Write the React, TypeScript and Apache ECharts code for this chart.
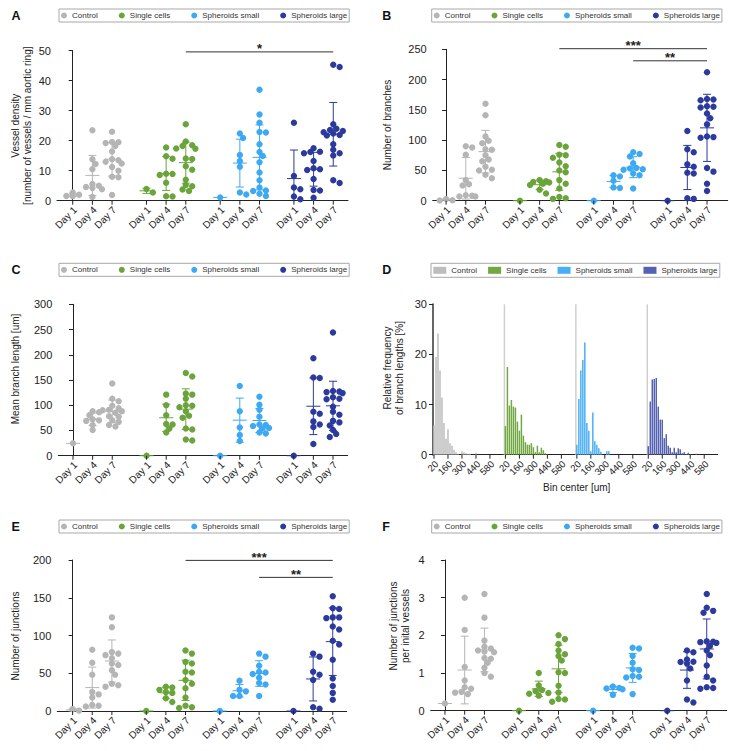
import React, { useEffect, useRef } from "react";
import * as echarts from "echarts";

const FONT = '"Liberation Sans", Arial, Helvetica, sans-serif';

const GROUPS = ["Control", "Single cells", "Spheroids small", "Spheroids large"];
const DAYS = ["Day 1", "Day 4", "Day 7"];
const COLORS = ["#b5b5b5", "#6aa43a", "#3ea9f3", "#2b3a9c"];
const BAR_COLORS = ["#bdbdbd", "#72a842", "#48aff5", "#5562b2"];

// Panel A: vessel density [number of vessels / mm aortic ring]  (Day 1, Day 4, Day 7)
const vdControl = [[1.5, 2.7, 1.6, 2.0], [23.5, 13.8, 12.2, 10.5, 5.6, 5.0, 4.6, 4.2, 3.8, 1.2], [23.0, 19.6, 19.5, 19.2, 18.2, 16.4, 13.8, 13.5, 13.0, 12.4, 11.2, 10.0, 8.0, 7.8, 1.9]];
const vdSingle = [[2.7, 3.9], [17.7, 14.8, 14.0, 9.0, 8.9, 8.6, 6.0, 1.5, 1.4], [25.5, 19.7, 18.5, 18.2, 17.4, 17.3, 14.1, 13.9, 11.5, 10.3, 7.0, 5.2, 4.8, 3.7, 3.2]];
const vdSmall = [[1.1], [22.4, 20.9, 15.2, 13.2, 11.3, 2.7, 2.1], [37.0, 28.7, 26.0, 22.9, 22.7, 18.8, 16.2, 14.9, 12.8, 9.4, 6.8, 4.4, 3.4, 3.2, 2.3, 1.6]];
const vdLarge = [[26.0, 8.2, 4.4, 3.8, 1.4, 0.5], [17.5, 16.3, 16.2, 15.8, 13.2, 10.8, 10.5, 10.2, 7.2, 3.6, 3.4, 1.0], [45.3, 44.6, 25.5, 24.0, 23.6, 23.2, 22.8, 22.4, 21.9, 21.7, 18.8, 17.0, 15.8, 15.1, 6.8, 5.9]];

// Panel B: number of branches
const brControl = [[2.8, 0.6, 0.3], [90, 88, 76, 34, 27, 25, 9, 8, 7, 7], [160, 141, 106, 99, 95, 85, 84, 75, 68, 65, 56, 51, 50, 43, 37]];
const brSingle = [[0], [34, 32, 31, 30, 28, 26, 18, 12], [92, 89, 76, 75, 71, 63, 57, 50, 47, 34, 28, 20, 6, 4, 3]];
const brSmall = [[0], [42, 40, 33, 22, 21], [80, 77, 73, 62, 54, 53, 52, 51, 45, 42, 20]];
const brLarge = [[0], [115, 85, 80, 60, 56, 46, 45, 4, 3], [212, 168, 167, 166, 156, 155, 154, 144, 136, 126, 106, 105, 104, 54, 48, 28, 16]];

// Panel C: mean branch length [um]
const mlControl = [[24.5], [88, 86, 80, 72, 70, 69, 61, 51], [143, 113, 108, 99, 94, 91, 90, 88, 85, 78, 77, 70, 67, 61, 58]];
const mlSingle = [[0], [121, 100, 80, 63, 62, 54, 46], [164, 157, 123, 121, 113, 100, 99, 96, 88, 79, 75, 54, 52, 32, 30]];
const mlSmall = [[0], [138, 88, 56, 41, 29], [117, 101, 91, 77, 62, 61, 59, 55, 54, 46, 44]];
const mlLarge = [[0], [193, 155, 154, 87, 83, 68, 62, 57, 23], [244, 128, 127, 126, 124, 116, 113, 112, 97, 87, 81, 69, 66, 60, 51, 43, 37]];

// Panel E: number of junctions
const jnControl = [[2.5, 0.5], [81, 64, 48, 25, 22, 18, 8, 7, 6], [124, 111, 78, 76, 74, 70, 63, 61, 54, 48, 36, 34, 32]];
const jnSingle = [[0], [32, 31, 28, 25, 24, 17, 12], [80, 76, 65, 63, 52, 51, 41, 36, 30, 18, 7, 5, 4]];
const jnSmall = [[0], [40, 28, 26, 20, 20], [76, 72, 60, 52, 51, 49, 44, 37, 35, 20]];
const jnLarge = [[0], [76, 72, 52, 48, 41, 5, 3], [152, 136, 135, 124, 124, 123, 112, 108, 93, 88, 68, 43, 33, 24, 15]];

// Panel F: number of junctions per initial vessels
const jvControl = [[0.19], [3.0, 2.14, 1.16, 0.8, 0.62, 0.58, 0.5, 0.48, 0.44], [3.1, 2.47, 1.86, 1.7, 1.65, 1.6, 1.57, 1.55, 1.4, 1.38, 1.27, 1.14, 1.0, 0.9]];
const jvSingle = [[0], [1.0, 0.67, 0.55, 0.52, 0.47, 0.45, 0.4], [2.0, 1.9, 1.77, 1.6, 1.5, 1.45, 1.33, 1.02, 1.0, 0.66, 0.48, 0.31, 0.3, 0.24]];
const jvSmall = [[0], [0.64, 0.6, 0.59, 0.57, 0.42], [1.67, 1.65, 1.45, 1.27, 1.1, 1.08, 0.92, 0.9, 0.88, 0.44]];
const jvLarge = [[0], [1.6, 1.55, 1.36, 1.3, 1.29, 1.25, 1.12, 0.8, 0.3, 0.22], [3.1, 2.73, 2.65, 2.6, 1.84, 1.83, 1.82, 1.8, 1.72, 1.6, 1.47, 1.2, 0.9, 0.8, 0.62, 0.6, 0.58]];

// Panel D: relative frequency of branch lengths [%] per bin center [um]
const HIST_BINS = [20, 40, 60, 80, 100, 120, 140, 160, 180, 200, 220, 240, 260, 280, 300, 320, 340, 360, 380, 400, 420, 440, 460, 480, 500];
const histControl = [5.8, 19.5, 24.2, 16.8, 11.4, 6.3, 3.2, 5.1, 2.3, 1.8, 1.0, 0.5, 0.2, 0, 0.7, 0.5, 0.3, 0.2, 0.15, 0, 0, 0.4, 0, 0, 0];
const histSingle = [5.7, 17.5, 9.8, 10.9, 9.6, 9.4, 6.6, 4.8, 8.0, 3.8, 2.5, 2.0, 2.0, 2.3, 1.5, 0.5, 1.8, 0.5, 1.4, 0.9, 0.3, 0.1, 0, 0, 0];
const histSmall = [2.0, 11.1, 16.8, 18.9, 22.4, 6.3, 4.8, 0.7, 8.4, 2.7, 2.0, 1.3, 0.6, 0, 0, 0.7, 0.7, 0, 0, 0, 0, 0, 0, 0, 0];
const histLarge = [1.7, 10.6, 15.0, 15.1, 15.3, 9.6, 7.0, 7.0, 3.3, 4.1, 1.8, 1.4, 0.5, 1.4, 0.5, 1.3, 1.1, 0.3, 0.5, 0.15, 0.4, 0.1, 0, 0, 0.2];
const HIST_TICKS = ["20", "160", "300", "440", "580"];

const GROUP_STEP = 3.75; // category layout: group spacing in day-slots
const HIST_GROUP_STEP = 715; // histogram layout: spacing of the four data sets on the shared axis

const PANELS = [
  {
    letter: "A", values: [vdControl, vdSingle, vdSmall, vdLarge],
    grid: { left: 57, top: 50.7, width: 291, height: 150 }, xMin: -0.8, xMax: 14.0, yMax: 50, yStep: 10,
    title: "Vessel density\n[number of vessels / mm aortic ring]", titleX: 21, titleY: 125.7,
    letterX: 11.5, letterY: 15.5, legendLeft: 59, legendTop: 9,
    sig: [{ from: [1, 2], to: [3, 2], y: 49.6, label: "*" }],
  },
  {
    letter: "B", values: [brControl, brSingle, brSmall, brLarge],
    grid: { left: 432.7, top: 49.3, width: 295, height: 151.4 }, xMin: -0.68, xMax: 14.3, yMax: 250, yStep: 50,
    title: "Number of branches", titleX: 387.7, titleY: 125,
    letterX: 382.3, letterY: 15.5, legendLeft: 431.7, legendTop: 9,
    sig: [{ from: [1, 2], to: [3, 2], y: 251, label: "***" }, { from: [2, 2], to: [3, 2], y: 231, label: "**" }],
  },
  {
    letter: "C", values: [mlControl, mlSingle, mlSmall, mlLarge],
    grid: { left: 58.3, top: 304.3, width: 289.4, height: 151.4 }, xMin: -0.75, xMax: 14.0, yMax: 300, yStep: 50,
    title: "Mean branch length [um]", titleX: 15, titleY: 369,
    letterX: 11.5, letterY: 270, legendLeft: 59, legendTop: 263.3,
    sig: [],
  },
  {
    letter: "E", values: [jnControl, jnSingle, jnSmall, jnLarge],
    grid: { left: 57.3, top: 560, width: 289.4, height: 151 }, xMin: -0.78, xMax: 13.96, yMax: 200, yStep: 50,
    title: "Number of junctions", titleX: 15, titleY: 636,
    letterX: 11.5, letterY: 526.5, legendLeft: 59, legendTop: 520,
    sig: [{ from: [1, 2], to: [3, 2], y: 199.5, label: "***" }, { from: [2, 2], to: [3, 2], y: 177, label: "**" }],
  },
  {
    letter: "F", values: [jvControl, jvSingle, jvSmall, jvLarge],
    grid: { left: 430.7, top: 560, width: 296, height: 150.7 }, xMin: -0.72, xMax: 14.26, yMax: 4, yStep: 1,
    title: "Number of junctions\nper inital vessels", titleX: 399, titleY: 626,
    letterX: 382.3, letterY: 526.5, legendLeft: 431.7, legendTop: 520,
    sig: [],
  },
];

const HIST_PANEL = {
  letter: "D", grid: { left: 433, top: 304.3, width: 284.7, height: 150.4 }, xMin: 10, xMax: 2860, yMax: 30, yStep: 10,
  title: "Relative frequency\nof branch lengths [%]", titleX: 393.8, titleY: 368,
  letterX: 382.3, letterY: 270, legendLeft: 431, legendTop: 263.3,
  xTitle: "Bin center [um]", xTitleX: 576.7, xTitleY: 487,
};

// Beeswarm-like horizontal spread of points that share similar values (pixel space).
function swarm(values: number[], pxPerY: number, pxPerX: number, diam: number, maxPx: number): number[] {
  const order = values.map((_, i) => i).sort((a, b) => values[b] - values[a]);
  const placed: { x: number; y: number }[] = [];
  const offsets = new Array(values.length).fill(0);
  const step = diam * 0.5;
  const minD = diam * 0.78;
  for (const i of order) {
    const y = values[i] * pxPerY;
    let chosen = 0;
    let bestCost = Infinity;
    for (let k = 0; k < 40; k++) {
      const mag = Math.ceil(k / 2) * step;
      if (mag > maxPx) break;
      const cand = k === 0 ? 0 : k % 2 === 1 ? mag : -mag;
      let cost = 0;
      for (const p of placed) {
        const d2 = (p.x - cand) ** 2 + (p.y - y) ** 2;
        if (d2 < minD * minD) cost += minD * minD - d2;
      }
      if (cost === 0) { chosen = cand; bestCost = 0; break; }
      if (cost < bestCost) { bestCost = cost; chosen = cand; }
    }
    placed.push({ x: chosen, y });
    offsets[i] = chosen / pxPerX;
  }
  return offsets;
}

function stats(vals: number[]) {
  const n = vals.length;
  const m = vals.reduce((a, b) => a + b, 0) / n;
  const sd = n > 1 ? Math.sqrt(vals.reduce((a, b) => a + (b - m) ** 2, 0) / (n - 1)) : 0;
  return { m, sd, n };
}

const renderStat = (_params: any, api: any) => {
  const x = api.value(0), m = api.value(1), sd = api.value(2), n = api.value(3), g = api.value(4);
  const color = COLORS[g];
  const pm = api.coord([x, m]);
  const children: any[] = [
    { type: "line", shape: { x1: pm[0] - 7, y1: pm[1], x2: pm[0] + 7, y2: pm[1] }, style: { stroke: color, lineWidth: 1 } },
  ];
  if (n > 1 && sd > 0) {
    const pt = api.coord([x, m + sd]);
    const lowV = Math.max(m - sd, 0);
    const pb = api.coord([x, lowV]);
    children.push({ type: "line", shape: { x1: pm[0], y1: pt[1], x2: pm[0], y2: pb[1] }, style: { stroke: color, lineWidth: 1 } });
    children.push({ type: "line", shape: { x1: pm[0] - 4, y1: pt[1], x2: pm[0] + 4, y2: pt[1] }, style: { stroke: color, lineWidth: 1 } });
    if (m - sd > 0) {
      children.push({ type: "line", shape: { x1: pm[0] - 4, y1: pb[1], x2: pm[0] + 4, y2: pb[1] }, style: { stroke: color, lineWidth: 1 } });
    }
  }
  return { type: "group", children };
};

const makeTickRenderer = (labels: string[], fontSize: number) => (_params: any, api: any) => {
  const x = api.value(0);
  const idx = api.value(2);
  const p = api.coord([x, 0]);
  return {
    type: "group",
    children: [
      { type: "line", shape: { x1: p[0], y1: p[1], x2: p[0], y2: p[1] + 4 }, style: { stroke: "#222", lineWidth: 1 } },
      {
        type: "text", x: p[0] + 2.5, y: p[1] + 7.5, rotation: Math.PI / 4,
        style: { text: labels[idx], align: "right", verticalAlign: "middle", fontSize, fontFamily: FONT, fill: "#222" },
      },
    ],
  };
};

const renderSig = (labels: string[]) => (_params: any, api: any) => {
  const x1 = api.value(0), x2 = api.value(1), y = api.value(2), idx = api.value(3);
  const p1 = api.coord([x1, y]);
  const p2 = api.coord([x2, y]);
  return {
    type: "group",
    children: [
      { type: "line", shape: { x1: p1[0], y1: p1[1], x2: p2[0], y2: p2[1] }, style: { stroke: "#333", lineWidth: 1 } },
      {
        type: "text", x: (p1[0] + p2[0]) / 2, y: p1[1] - 3,
        style: { text: labels[idx], align: "center", verticalAlign: "middle", fontSize: 13, fontWeight: "bold", fontFamily: FONT, fill: "#222" },
      },
    ],
  };
};

function yAxisOf(gi: number, max: number, step: number, lineColor = "#222", lineWidth = 1) {
  return {
    type: "value", gridIndex: gi, min: 0, max, interval: step,
    axisLine: { show: true, lineStyle: { color: lineColor, width: lineWidth } },
    axisTick: { show: true, length: 4, lineStyle: { color: "#222", width: 1 } },
    axisLabel: { fontSize: 11, color: "#222", fontFamily: FONT, margin: 6 },
    splitLine: { show: false },
  };
}

function buildOption() {
  const grid: any[] = [], xAxis: any[] = [], yAxis: any[] = [], series: any[] = [], legend: any[] = [], graphic: any[] = [];

  PANELS.forEach((p, gi) => {
    grid.push({ ...p.grid, containLabel: false });
    xAxis.push({
      type: "value", gridIndex: gi, min: p.xMin, max: p.xMax,
      axisLine: { show: true, onZero: false, lineStyle: { color: "#222", width: 1 } },
      axisTick: { show: false }, axisLabel: { show: false }, splitLine: { show: false },
    });
    yAxis.push(yAxisOf(gi, p.yMax, p.yStep));
    const pxPerY = p.grid.height / p.yMax;
    const pxPerX = p.grid.width / (p.xMax - p.xMin);
    const statData: number[][] = [];
    const tickData: number[][] = [];
    p.values.forEach((days, g) => {
      const pts: number[][] = [];
      days.forEach((vals, d) => {
        const xc = g * GROUP_STEP + d;
        const off = swarm(vals, pxPerY, pxPerX, 6.4, 10);
        vals.forEach((v, i) => pts.push([xc + off[i], v]));
        const s = stats(vals);
        statData.push([xc, s.m, s.sd, s.n, g]);
        tickData.push([xc, 0, d]);
      });
      series.push({
        type: "scatter", name: GROUPS[g], xAxisIndex: gi, yAxisIndex: gi, data: pts,
        symbol: "circle", symbolSize: 6.4, itemStyle: { color: COLORS[g], opacity: 1 },
        clip: false, silent: true, z: 2,
      });
    });
    series.push({ type: "custom", name: "mean-sd-" + p.letter, xAxisIndex: gi, yAxisIndex: gi, data: statData, renderItem: renderStat, silent: true, z: 3 });
    series.push({ type: "custom", name: "days-" + p.letter, xAxisIndex: gi, yAxisIndex: gi, data: tickData, renderItem: makeTickRenderer(DAYS, 10), silent: true, z: 3 });
    if (p.sig.length) {
      const sigLabels = p.sig.map((s) => s.label);
      series.push({
        type: "custom", name: "sig-" + p.letter, xAxisIndex: gi, yAxisIndex: gi,
        data: p.sig.map((s, i) => [s.from[0] * GROUP_STEP + s.from[1], s.to[0] * GROUP_STEP + s.to[1], s.y, i]),
        encode: { x: [0, 1], y: 2 },
        renderItem: renderSig(sigLabels), silent: true, z: 4,
      });
    }
    legend.push({
      left: p.legendLeft, top: p.legendTop, orient: "horizontal", selectedMode: false,
      itemWidth: 6, itemHeight: 6, itemGap: 21, padding: [2.5, 2, 2.5, 2],
      borderColor: "#a8a8a8", borderWidth: 1,
      textStyle: { fontSize: 8, color: "#333", fontFamily: FONT },
      data: GROUPS.map((n, g) => ({ name: n, icon: "circle", itemStyle: { color: COLORS[g] } })),
    });
    graphic.push({ type: "text", x: p.letterX, y: p.letterY, style: { text: p.letter, fontSize: 12.5, fontWeight: "bold", fontFamily: FONT, fill: "#111", align: "left", verticalAlign: "middle" } });
    graphic.push({
      type: "text", x: p.titleX, y: p.titleY, rotation: Math.PI / 2,
      style: { text: p.title, fontSize: 10, fontFamily: FONT, fill: "#222", align: "center", verticalAlign: "middle", lineHeight: 12 },
    });
  });

  // Panel D (histogram)
  const h = HIST_PANEL;
  const gi = PANELS.length;
  grid.push({ ...h.grid, containLabel: false });
  xAxis.push({
    type: "value", gridIndex: gi, min: h.xMin, max: h.xMax,
    axisLine: { show: true, onZero: false, lineStyle: { color: "#222", width: 1 } },
    axisTick: { show: false }, axisLabel: { show: false }, splitLine: { show: false },
  });
  yAxis.push(yAxisOf(gi, h.yMax, h.yStep, "#666", 2));
  const hists = [histControl, histSingle, histSmall, histLarge];
  hists.forEach((hv, g) => {
    series.push({
      type: "bar", name: GROUPS[g], xAxisIndex: gi, yAxisIndex: gi,
      data: HIST_BINS.map((b, i) => [g * HIST_GROUP_STEP + b, hv[i]]),
      barWidth: 1.5, barGap: "-100%", itemStyle: { color: BAR_COLORS[g] }, silent: true, z: 2,
    });
  });
  const sepData = [1, 2, 3].map((g) => [g * HIST_GROUP_STEP + h.xMin, h.yMax]);
  series.push({
    type: "custom", name: "separators-D", xAxisIndex: gi, yAxisIndex: gi, data: sepData, silent: true, z: 1,
    renderItem: (_params: any, api: any) => {
      const x = api.value(0);
      const p0 = api.coord([x, 0]);
      const p1 = api.coord([x, api.value(1)]);
      return { type: "line", shape: { x1: p0[0], y1: p0[1], x2: p1[0], y2: p1[1] }, style: { stroke: "#cfcfcf", lineWidth: 1.5 } };
    },
  });
  const histTickData: number[][] = [];
  [0, 1, 2, 3].forEach((g) => HIST_TICKS.forEach((t, ti) => histTickData.push([g * HIST_GROUP_STEP + Number(t), 0, ti])));
  series.push({ type: "custom", name: "bins-D", xAxisIndex: gi, yAxisIndex: gi, data: histTickData, renderItem: makeTickRenderer(HIST_TICKS, 9.5), silent: true, z: 3 });
  legend.push({
    left: h.legendLeft, top: h.legendTop, orient: "horizontal", selectedMode: false,
    itemWidth: 13, itemHeight: 7, itemGap: 11, padding: [3, 2.3, 3, 2.3],
    borderColor: "#a8a8a8", borderWidth: 1,
    textStyle: { fontSize: 8, color: "#333", fontFamily: FONT },
    data: GROUPS.map((n, g) => ({ name: n, icon: "rect", itemStyle: { color: BAR_COLORS[g] } })),
  });
  graphic.push({ type: "text", x: h.letterX, y: h.letterY, style: { text: h.letter, fontSize: 12.5, fontWeight: "bold", fontFamily: FONT, fill: "#111", align: "left", verticalAlign: "middle" } });
  graphic.push({
    type: "text", x: h.titleX, y: h.titleY, rotation: Math.PI / 2,
    style: { text: h.title, fontSize: 10, fontFamily: FONT, fill: "#222", align: "center", verticalAlign: "middle", lineHeight: 12.3 },
  });
  graphic.push({
    type: "text", x: h.xTitleX, y: h.xTitleY,
    style: { text: h.xTitle, fontSize: 10, fontFamily: FONT, fill: "#222", align: "center", verticalAlign: "middle" },
  });

  return {
    animation: false,
    backgroundColor: "#ffffff",
    textStyle: { fontFamily: FONT },
    grid, xAxis, yAxis, series, legend, graphic,
  };
}

export default function App() {
  const ref = useRef<HTMLDivElement | null>(null);
  useEffect(() => {
    if (!ref.current) return;
    const chart = echarts.init(ref.current, null, { renderer: "svg" });
    chart.setOption(buildOption() as any);
    return () => chart.dispose();
  }, []);
  return <div ref={ref} style={{ position: "absolute", left: 0, top: 0, width: 729, height: 751 }} />;
}
